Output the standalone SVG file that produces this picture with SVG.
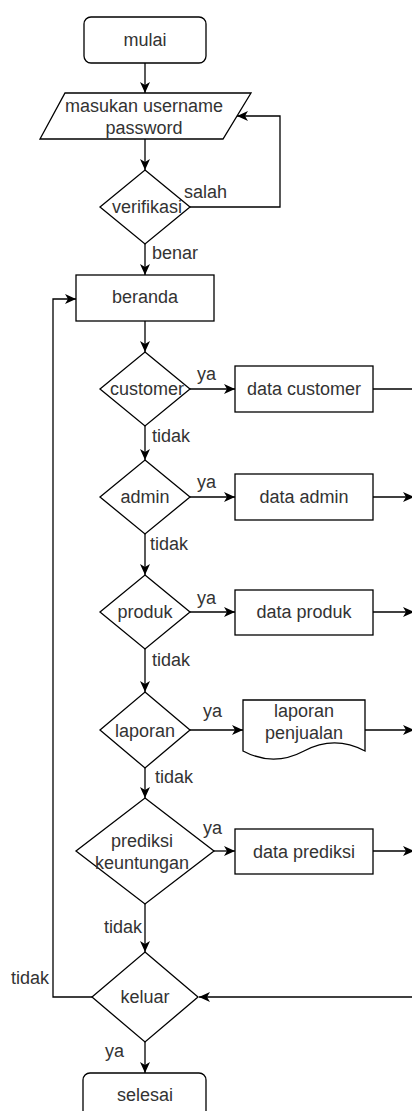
<svg xmlns="http://www.w3.org/2000/svg" width="412" height="1111" viewBox="0 0 412 1111">
<defs>
<marker id="arr" markerUnits="userSpaceOnUse" markerWidth="12" markerHeight="10" viewBox="0 0 12 10" refX="11" refY="5" orient="auto">
<path d="M0,0 L11,5 L0,10 L3,5 Z" fill="#000"/>
</marker>
<style>
.s{fill:#fff;stroke:#000;stroke-width:1.3}
.c{fill:none;stroke:#000;stroke-width:1.3}
.t{font-family:"Liberation Sans",Arial,sans-serif;font-size:18px;fill:#333}
.m{text-anchor:middle}
.e{text-anchor:end}
</style>
</defs>
<rect width="412" height="1111" fill="#fff"/>
<g id="connectors">
<path class="c" d="M145,63 V93" marker-end="url(#arr)"/>
<path class="c" d="M145,139 V170" marker-end="url(#arr)"/>
<path class="c" d="M190,207 H280 V116 H237" marker-end="url(#arr)"/>
<path class="c" d="M145,244 V275" marker-end="url(#arr)"/>
<path class="c" d="M145,321 V352" marker-end="url(#arr)"/>
<path class="c" d="M190,389 H235" marker-end="url(#arr)"/>
<path class="c" d="M373,389 H412"/>
<path class="c" d="M145,426 V460" marker-end="url(#arr)"/>
<path class="c" d="M190,497 H235" marker-end="url(#arr)"/>
<path class="c" d="M373,497 H414" marker-end="url(#arr)"/>
<path class="c" d="M145,534 V575" marker-end="url(#arr)"/>
<path class="c" d="M190,612 H235" marker-end="url(#arr)"/>
<path class="c" d="M373,612 H414" marker-end="url(#arr)"/>
<path class="c" d="M145,649 V692" marker-end="url(#arr)"/>
<path class="c" d="M190,730 H243" marker-end="url(#arr)"/>
<path class="c" d="M365,730 H414" marker-end="url(#arr)"/>
<path class="c" d="M145,768 V798" marker-end="url(#arr)"/>
<path class="c" d="M214,851 H235" marker-end="url(#arr)"/>
<path class="c" d="M373,851 H414" marker-end="url(#arr)"/>
<path class="c" d="M145,904 V952" marker-end="url(#arr)"/>
<path class="c" d="M412,997 H199" marker-end="url(#arr)"/>
<path class="c" d="M92,997 H53 V299 H76" marker-end="url(#arr)"/>
<path class="c" d="M145,1042 V1073" marker-end="url(#arr)"/>
<text class="t" x="184" y="198">salah</text>
<text class="t" x="152" y="259">benar</text>
<text class="t" x="197" y="380">ya</text>
<text class="t" x="152" y="442">tidak</text>
<text class="t" x="197" y="488">ya</text>
<text class="t" x="150" y="550">tidak</text>
<text class="t" x="197" y="604">ya</text>
<text class="t" x="152" y="666">tidak</text>
<text class="t" x="203" y="717">ya</text>
<text class="t" x="155" y="783">tidak</text>
<text class="t" x="203" y="834">ya</text>
<text class="t e" x="142" y="933">tidak</text>
<text class="t" x="11" y="984">tidak</text>
<text class="t e" x="124" y="1057">ya</text>
</g>
<g id="mulai">
<rect class="s" x="84" y="17" width="122" height="46" rx="7"/>
<text class="t m" x="145" y="46">mulai</text>
</g>
<g id="input">
<polygon class="s" points="65,93 251,93 223,139 40,139"/>
<text class="t m" x="144" y="112">masukan username</text>
<text class="t m" x="144" y="134">password</text>
</g>
<g id="verifikasi">
<polygon class="s" points="145,170 190,207 145,244 100,207"/>
<text class="t m" x="147" y="213">verifikasi</text>
</g>
<g id="beranda">
<rect class="s" x="76" y="275" width="138" height="46"/>
<text class="t m" x="145" y="303">beranda</text>
</g>
<g id="customer">
<polygon class="s" points="145,352 190,389 145,426 100,389"/>
<text class="t m" x="147" y="395">customer</text>
</g>
<g id="data-customer">
<rect class="s" x="235" y="366" width="138" height="46"/>
<text class="t m" x="304" y="395">data customer</text>
</g>
<g id="admin">
<polygon class="s" points="145,460 190,497 145,534 100,497"/>
<text class="t m" x="145" y="503">admin</text>
</g>
<g id="data-admin">
<rect class="s" x="235" y="474" width="138" height="46"/>
<text class="t m" x="304" y="503">data admin</text>
</g>
<g id="produk">
<polygon class="s" points="145,575 190,612 145,649 100,612"/>
<text class="t m" x="145" y="618">produk</text>
</g>
<g id="data-produk">
<rect class="s" x="235" y="590" width="138" height="45"/>
<text class="t m" x="304" y="618">data produk</text>
</g>
<g id="laporan">
<polygon class="s" points="145,692 190,730 145,768 100,730"/>
<text class="t m" x="145" y="737">laporan</text>
</g>
<g id="laporan-penjualan">
<path class="s" d="M243,700 H365 V751 Q334.5,734.8 304,751 Q273.5,767.2 243,751 Z"/>
<text class="t m" x="304" y="717">laporan</text>
<text class="t m" x="304" y="739">penjualan</text>
</g>
<g id="prediksi">
<polygon class="s" points="145,798 214,851 145,904 76,851"/>
<text class="t m" x="142" y="847">prediksi</text>
<text class="t m" x="142" y="869">keuntungan</text>
</g>
<g id="data-prediksi">
<rect class="s" x="235" y="829" width="138" height="45"/>
<text class="t m" x="304" y="858">data prediksi</text>
</g>
<g id="keluar">
<polygon class="s" points="145,952 198,997 145,1042 92,997"/>
<text class="t m" x="145" y="1003">keluar</text>
</g>
<g id="selesai">
<rect class="s" x="83" y="1073" width="123" height="46" rx="7"/>
<text class="t m" x="145" y="1101">selesai</text>
</g>
</svg>
